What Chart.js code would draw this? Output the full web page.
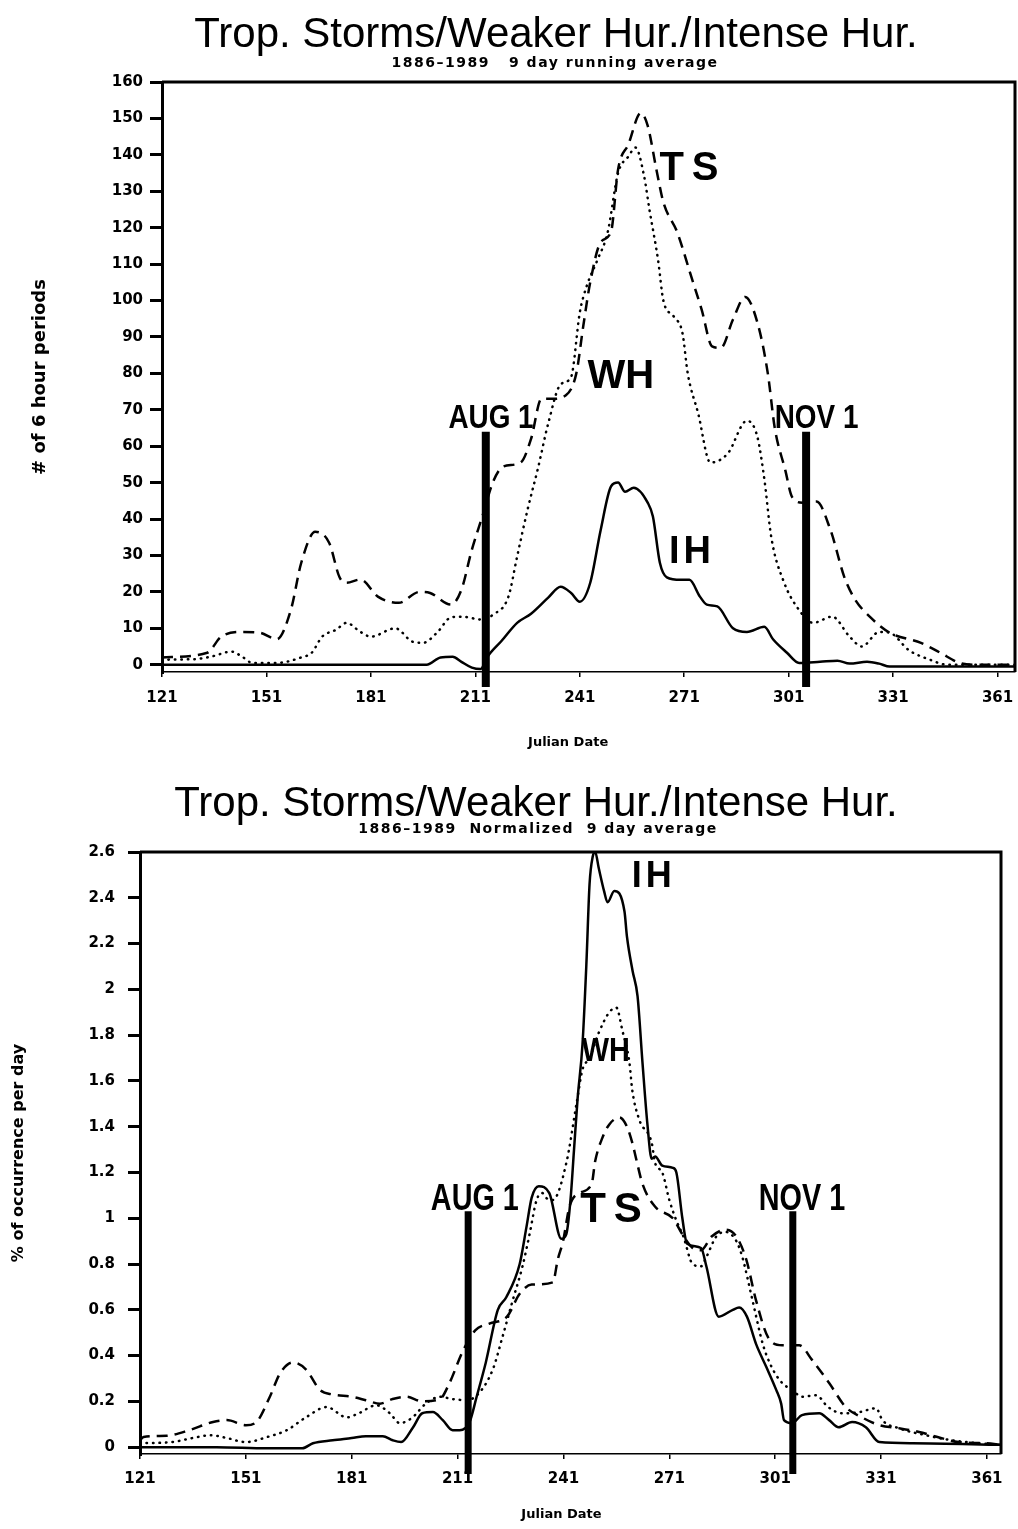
<!DOCTYPE html>
<html>
<head>
<meta charset="utf-8">
<script src="https://cdn.jsdelivr.net/npm/chart.js@4.4.1/dist/chart.umd.min.js"></script>
<style>
  body { margin: 0; background: #fff; }
  #page { position: relative; width: 1018px; height: 1529px; overflow: hidden; }
  .title { position: absolute; transform: translateX(-50%); white-space: pre;
           font: 42px "Liberation Sans", Arial, sans-serif; line-height: 42px; color: #000; }
  .sub { position: absolute; transform: translateX(-50%); white-space: pre;
         font: bold 14px "DejaVu Sans", sans-serif; letter-spacing: 1.5px; color: #000; }
  canvas { position: absolute; left: 0; }
</style>
</head>
<body>
<div id="page">
  <canvas id="topChart" width="1018" height="770" style="top:0"></canvas>
  <canvas id="bottomChart" width="1018" height="759" style="top:770px"></canvas>
  <div class="title" style="left:556px; top:12px">Trop. Storms/Weaker Hur./Intense Hur.</div>
  <div class="sub" style="left:555px; top:54px">1886–1989   9 day running average</div>
  <div class="title" style="left:536px; top:781px">Trop. Storms/Weaker Hur./Intense Hur.</div>
  <div class="sub" style="left:538px; top:820px">1886–1989  Normalized  9 day average</div>
</div>
<script>
// Julian day ticks shared by both panels
const dayTicks = [121, 151, 181, 211, 241, 271, 301, 331, 361];
const countTicks = [0, 10, 20, 30, 40, 50, 60, 70, 80, 90, 100, 110, 120, 130, 140, 150, 160];
const normTicks = [0, 0.2, 0.4, 0.6, 0.8, 1, 1.2, 1.4, 1.6, 1.8, 2, 2.2, 2.4, 2.6];
const markerDays = [214, 306];

// Top panel: number of 6 hour periods, 9 day running average
const tsDays1 = [121,134,138,144,149,154,158,161,165,169,172,174,178,183,189,195,198,204,207,210,213,216,219,224,227,230,233,237,240,242,244,247,250,252,255,258.5,260.5,263,265,269,273,276,279,281.5,285,288.5,292,295,297,300,302,305,309,313,317,320,324.5,330,339,344.5,350,354,366];
const tsCounts1 = [2,3.3,7.7,9,8.8,7,15,28,36.5,33.5,24,22.5,23.4,18.7,17,20,19.7,16.5,20.6,31.6,40.7,50,54.4,55.5,62,73,73,74,80,93,105,116,119,136,143,151.5,148,136,127,118.7,106.6,97.5,87.4,87,94.8,101,94,80,65,53.5,46,44.5,44.8,37,24,18,13,8.8,6,3.3,0.5,0,0];

const whDays1 = [121,123,130,135,141,144,147,154,161,164,167,171,174,178,181,188,193,196,200,204,207,213,216,220.5,223,226,229,232,235.5,238.5,241,243,246,249,252,255,257,259.5,261,263.5,265,268,270.5,272,275,278.5,283.5,289,292,294,296,299.5,304,308,313.5,318.5,322,327,330,335.5,341.5,346.5,366];
const whCounts1 = [1,1.4,1.5,2.2,3.6,2.2,0.5,0.5,2,3.3,7.7,9.6,11.5,9,7.7,10,6.3,6,8.8,13,13.2,12.4,13.7,18.7,29.7,42.6,54,66.5,77,79,96.7,104,111,118.7,135,139.6,142,134,125,111,100,95.6,91,80,69,55.5,58,67,62.6,51,35,23,15,11.5,13.2,7.7,5,9,8.8,4,1.4,0,0];

const ihDays1 = [121,150,180,197,201,204.5,207,210,212.5,214.5,218.5,223,227,232,235.5,238.5,241,244,247,250,252,254,256.5,260.5,262,264,266,270,272.5,275.5,277.5,280.5,285,289,294,296.5,300.5,304,310,315,318.5,323.5,327,330,366];
const ihCounts1 = [0,0,0,0,2,2.2,0.8,-0.8,-1.2,2.2,6.5,11.5,14,18.5,21.4,19.7,17.3,22.5,37,49,50,47.5,48.6,44.5,40.7,28,24,23.3,23.3,18.7,16.5,16,10,9,10.4,7,3.3,0.5,0.8,1.1,0.3,0.8,0.3,-0.5,-0.5];

// Bottom panel: % of occurrence per day, normalized 9 day average
const tsDays2 = [121,122,128.6,135,141.7,145.6,151,154,157.8,160.6,164.3,168,172,175.6,181,185,189,192.6,196.5,201,206,208.7,212.5,216,220,225,228.6,232,238,239.4,240.9,242.7,245.5,249,250,252,254,256.9,259,260.5,261.6,263.4,267,272,274.7,277.6,280,283,287,290,292.8,295.6,299,303,307.8,311.5,316.3,321,325.6,330.5,336,341.8,347,353,360.7,365];
const tsNorm2 = [0.03,0.044,0.05,0.074,0.11,0.118,0.096,0.11,0.22,0.32,0.37,0.34,0.25,0.23,0.22,0.205,0.19,0.21,0.22,0.2,0.21,0.28,0.42,0.51,0.54,0.57,0.67,0.71,0.72,0.82,0.9,1.05,1.11,1.15,1.25,1.35,1.41,1.44,1.4,1.33,1.26,1.15,1.05,1.0,0.93,0.87,0.86,0.92,0.95,0.92,0.82,0.64,0.48,0.445,0.445,0.38,0.28,0.175,0.13,0.096,0.083,0.066,0.044,0.022,0.017,0.01];

const whDays2 = [121,130,136,141,145.6,151,157,162.6,168,173.9,179.6,183,188,191.8,194.6,198,202,206,209.6,213.5,217,221,223.7,226.6,229.4,231.4,233.4,235,236,238,241.8,244.7,246.4,248.4,251,254,256,257.7,259.7,260.5,262.5,266,267,269,271,273,275,277.6,280,281.5,284.3,287,290,291.7,294.6,297.5,300,303,305.8,308.6,312.6,316,320,324.8,329.6,331.4,336,343.7,351,358.8,365];
const whNorm2 = [0.017,0.022,0.04,0.052,0.04,0.022,0.044,0.074,0.13,0.175,0.13,0.148,0.183,0.148,0.105,0.127,0.19,0.22,0.21,0.205,0.235,0.34,0.48,0.64,0.79,0.93,1.08,1.11,1.09,1.08,1.24,1.5,1.65,1.7,1.81,1.9,1.92,1.82,1.68,1.56,1.43,1.33,1.24,1.2,1.08,0.99,0.92,0.8,0.79,0.83,0.92,0.94,0.9,0.83,0.64,0.45,0.35,0.28,0.25,0.22,0.227,0.175,0.148,0.153,0.17,0.118,0.083,0.052,0.03,0.017,0.01];

const ihDays2 = [121,142.7,157,167,170,175.6,181,185,189.8,192.6,195,198.4,201,204,206.8,209.6,211.6,214.4,216.4,219,222.4,224.8,228.6,230.5,232,234,237,240.4,241.8,243,244,245,246.4,247.5,248.4,249.3,250,251,252.5,253.5,255.4,258.3,259,260.6,262,263.4,264.8,266,267,269,272,273,274.7,276,280,281.5,285,289,290.8,293,295.6,298.5,301.3,302.7,303.5,305.8,308.6,313.5,316.3,319,322.8,326.7,330.5,340,365];
const ihNorm2 = [0,0,-0.005,-0.005,0.017,0.03,0.04,0.048,0.048,0.03,0.022,0.087,0.148,0.153,0.118,0.074,0.074,0.11,0.22,0.37,0.6,0.655,0.8,0.96,1.09,1.14,1.11,0.91,0.93,1.08,1.3,1.52,1.76,2.11,2.46,2.58,2.6,2.53,2.43,2.38,2.43,2.34,2.23,2.08,1.97,1.68,1.41,1.26,1.27,1.23,1.22,1.2,1.0,0.89,0.87,0.79,0.57,0.6,0.61,0.57,0.45,0.35,0.25,0.19,0.118,0.105,0.14,0.148,0.118,0.087,0.11,0.087,0.022,0.017,0.01];

const tickFont = { family: 'DejaVu Sans', weight: 'bold', size: 15 };
const labelFamily = '"Liberation Sans", Arial, sans-serif';

function points(days, values) {
    return days.map((d, i) => ({ x: d, y: values[i] }));
}

function series(days, values, dash, cap) {
    return {
        data: points(days, values),
        borderColor: '#000',
        borderWidth: 2.5,
        borderDash: dash,
        borderCapStyle: cap || 'butt',
        pointRadius: 0,
        fill: false,
        tension: 0.4,
        cubicInterpolationMode: 'monotone'
    };
}

// frame, AUG 1 / NOV 1 markers and the curve labels
const annotate = {
    id: 'annotate',
    afterDatasetsDraw(chart, args, opts) {
        const { ctx, chartArea: a, scales: { x, y } } = chart;
        ctx.save();
        ctx.strokeStyle = '#000';
        ctx.fillStyle = '#000';
        ctx.lineWidth = 3;
        ctx.setLineDash([]);
        ctx.beginPath();
        ctx.moveTo(a.left, a.top);
        ctx.lineTo(a.right, a.top);
        ctx.lineTo(a.right, a.bottom);
        ctx.stroke();

        ctx.lineWidth = opts.markWidth;
        markerDays.forEach(d => {
            const px = x.getPixelForValue(d);
            ctx.beginPath();
            ctx.moveTo(px, y.getPixelForValue(opts.markTop));
            ctx.lineTo(px, a.bottom + opts.markDrop);
            ctx.stroke();
        });

        ctx.textAlign = 'center';
        opts.labels.forEach(l => {
            ctx.save();
            ctx.font = 'bold ' + l.size + 'px ' + labelFamily;
            ctx.textBaseline = l.base;
            if ('letterSpacing' in ctx) ctx.letterSpacing = (l.spacing || 0) + 'px';
            ctx.translate(x.getPixelForValue(l.x), y.getPixelForValue(l.y));
            ctx.scale(l.squeeze || 1, 1);
            ctx.fillText(l.text, 0, 0);
            ctx.restore();
        });
        ctx.restore();
    }
};

function makeChart(id, p) {
    return new Chart(document.getElementById(id).getContext('2d'), {
        type: 'line',
        data: { datasets: p.datasets },
        options: {
            responsive: false,
            animation: false,
            layout: { padding: p.padding },
            plugins: { legend: { display: false }, tooltip: { enabled: false }, annotate: p.annotate },
            scales: {
                x: {
                    type: 'linear', min: 121, max: p.xMax,
                    afterBuildTicks: s => { s.ticks = dayTicks.map(v => ({ value: v })); },
                    afterFit: s => { s.height = p.xHeight; s.paddingLeft = 0; s.paddingRight = 0; },
                    ticks: { font: tickFont, color: '#000', padding: p.xPad, maxRotation: 0, autoSkip: false },
                    grid: { drawOnChartArea: false, tickLength: 5, color: '#000', lineWidth: 1.5 },
                    border: { color: '#000', width: 1.5, dash: [9, 3, 2, 3] },
                    title: { display: true, text: p.xTitle, color: '#000',
                             font: { family: 'DejaVu Sans', weight: 'bold', size: 13 }, padding: { top: 0, bottom: 2 } }
                },
                y: {
                    min: p.yMin, max: p.yMax,
                    afterBuildTicks: s => { s.ticks = p.yTicks.map(v => ({ value: v })); },
                    afterFit: s => { s.width = p.yWidth; },
                    ticks: { font: tickFont, color: '#000', padding: p.yPad,
                             callback: v => String(Number(v.toFixed(1))) },
                    grid: { drawOnChartArea: false, tickLength: 12, color: '#000', lineWidth: 3 },
                    border: { color: '#000', width: 3 },
                    title: { display: true, text: p.yTitle, color: '#000',
                             font: { family: 'DejaVu Sans', weight: 'bold', size: p.yTitleSize },
                             padding: { top: p.yTitlePad, bottom: 0 } }
                }
            }
        },
        plugins: [annotate]
    });
}

makeChart('topChart', {
    datasets: [
        series(tsDays1, tsCounts1, [11, 7]),
        series(whDays1, whCounts1, [0.5, 6], 'round'),
        series(ihDays1, ihCounts1, [])
    ],
    padding: { top: 82, right: 3, bottom: 18, left: 0 },
    xMax: 366, xHeight: 80, xPad: 12, xTitle: 'Julian Date         ',
    yMin: -2, yMax: 160, yTicks: countTicks, yWidth: 162, yPad: 7,
    yTitle: '# of 6 hour periods', yTitleSize: 18, yTitlePad: 30,
    annotate: {
        markWidth: 8, markTop: 64, markDrop: 15,
        labels: [
            { text: 'AUG 1', x: 215.5, y: 65, size: 34, squeeze: 0.82, base: 'alphabetic' },
            { text: 'NOV 1', x: 309, y: 65, size: 34, squeeze: 0.82, base: 'alphabetic' },
            { text: 'TS', x: 273.5, y: 136, size: 40, base: 'middle', spacing: 8 },
            { text: 'WH', x: 252.8, y: 79, size: 40, base: 'middle' },
            { text: 'IH', x: 273.2, y: 30.8, size: 38, base: 'middle', spacing: 4 }
        ]
    }
});

makeChart('bottomChart', {
    datasets: [
        series(tsDays2, tsNorm2, [11, 7]),
        series(whDays2, whNorm2, [0.5, 6], 'round'),
        series(ihDays2, ihNorm2, [])
    ],
    padding: { top: 82, right: 17, bottom: 5, left: 0 },
    xMax: 365, xHeight: 70, xPad: 11, xTitle: 'Julian Date    ',
    yMin: -0.03, yMax: 2.6, yTicks: normTicks, yWidth: 140, yPad: 13,
    yTitle: '% of occurrence per day', yTitleSize: 16, yTitlePad: 9,
    annotate: {
        markWidth: 7, markTop: 1.03, markDrop: 20,
        labels: [
            { text: 'AUG 1', x: 215.9, y: 1.035, size: 36, squeeze: 0.8, base: 'alphabetic' },
            { text: 'NOV 1', x: 308.6, y: 1.035, size: 36, squeeze: 0.8, base: 'alphabetic' },
            { text: 'TS', x: 255.6, y: 1.035, size: 42, base: 'middle', spacing: 8 },
            { text: 'IH', x: 266.6, y: 2.49, size: 36, base: 'middle', spacing: 4 },
            { text: 'WH', x: 253, y: 1.73, size: 34, squeeze: 0.85, base: 'middle' }
        ]
    }
});
</script>
</body>
</html>
